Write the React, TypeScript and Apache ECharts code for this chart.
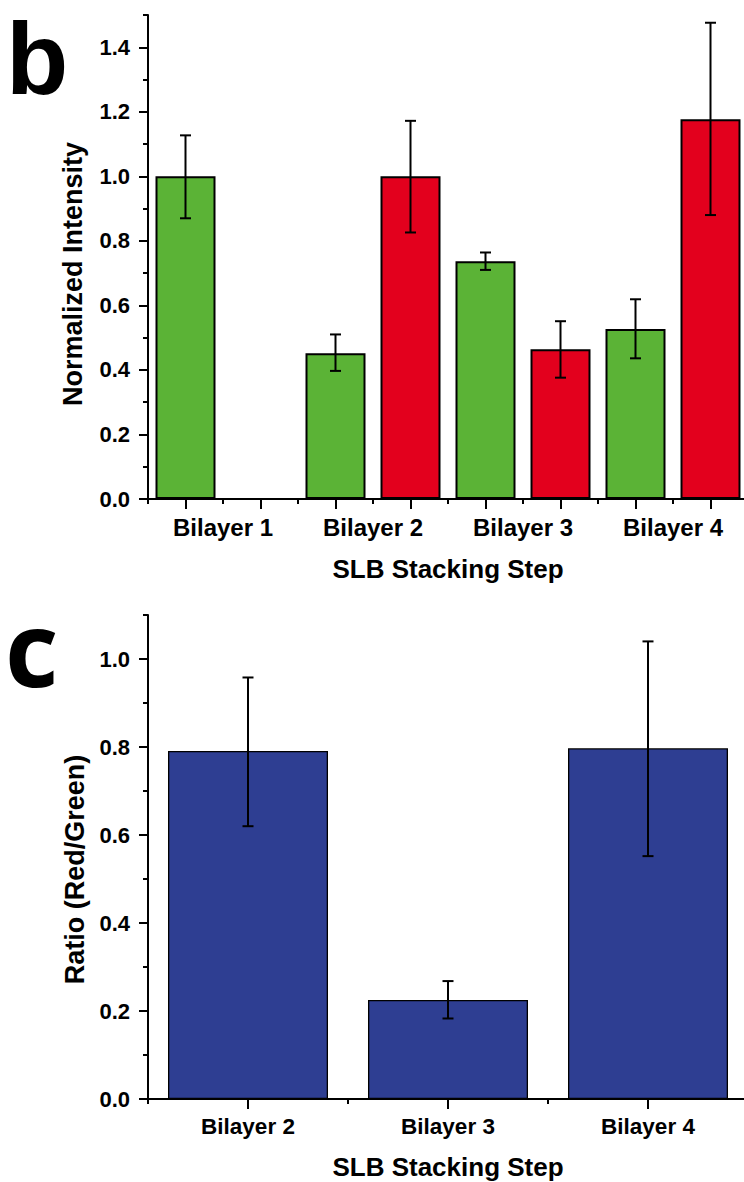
import React, { useEffect, useRef } from "react";
import * as echarts from "echarts";

// ---- Panel b data ----
const groupLabels = ["Bilayer 1", "Bilayer 2", "Bilayer 3", "Bilayer 4"];
const greenMean = [1.0, 0.452, 0.737, 0.527];
const greenErrLow = [0.87, 0.397, 0.71, 0.436];
const greenErrHigh = [1.127, 0.51, 0.764, 0.619];
const redMean: (number | null)[] = [null, 1.0, 0.464, 1.177];
const redErrLow: (number | null)[] = [null, 0.826, 0.376, 0.88];
const redErrHigh: (number | null)[] = [null, 1.172, 0.551, 1.476];
const topMajorTicks = [0, 0.2, 0.4, 0.6, 0.8, 1.0, 1.2, 1.4];
const topMinorTicks = [0.1, 0.3, 0.5, 0.7, 0.9, 1.1, 1.3, 1.5];

// ---- Panel c data ----
const ratioLabels = ["Bilayer 2", "Bilayer 3", "Bilayer 4"];
const ratioMean = [0.791, 0.225, 0.797];
const ratioErrLow = [0.62, 0.183, 0.552];
const ratioErrHigh = [0.958, 0.268, 1.04];
const botMajorTicks = [0, 0.2, 0.4, 0.6, 0.8, 1.0];
const botMinorTicks = [0.1, 0.3, 0.5, 0.7, 0.9, 1.1];

const GREEN = "#5bb336";
const RED = "#e3001d";
const BLUE = "#2e3e92";
const FONT = "Liberation Sans, Arial, sans-serif";

export default function App() {
  const ref = useRef<HTMLDivElement>(null);
  useEffect(() => {
    if (!ref.current) return;
    const chart = echarts.init(ref.current, undefined, { renderer: "svg" });

    // slots: green then red for each group
    const slots: string[] = [];
    groupLabels.forEach((g) => {
      slots.push(g + " green");
      slots.push(g + " red");
    });
    const greenData: any[] = [];
    const redData: any[] = [];
    const errTop: any[] = [];
    groupLabels.forEach((_, i) => {
      greenData.push(greenMean[i]);
      greenData.push("-");
      redData.push("-");
      redData.push(redMean[i] == null ? "-" : redMean[i]);
      errTop.push([2 * i, greenErrLow[i], greenErrHigh[i]]);
      if (redMean[i] != null) errTop.push([2 * i + 1, redErrLow[i], redErrHigh[i]]);
    });
    const errBot = ratioLabels.map((_, i) => [i, ratioErrLow[i], ratioErrHigh[i]]);

    const errRender = (half: number) => (params: any, api: any) => {
      const x = api.value(0);
      const lo = api.coord([x, api.value(1)]);
      const hi = api.coord([x, api.value(2)]);
      const st = { stroke: "#000", lineWidth: 2 };
      return {
        type: "group",
        children: [
          { type: "line", shape: { x1: lo[0], y1: lo[1], x2: hi[0], y2: hi[1] }, style: st },
          { type: "line", shape: { x1: lo[0] - half, y1: lo[1], x2: lo[0] + half, y2: lo[1] }, style: st },
          { type: "line", shape: { x1: hi[0] - half, y1: hi[1], x2: hi[0] + half, y2: hi[1] }, style: st },
        ],
      };
    };

    const axisLineStyle = { color: "#000", width: 2 };
    const tickLine = { color: "#000", width: 2 };
    const labelStyle = (size: number) => ({
      color: "#000",
      fontFamily: FONT,
      fontWeight: "bold" as const,
      fontSize: size,
    });

    const option: any = {
      animation: false,
      grid: [
        { left: 148, top: 15, width: 600, height: 484, outerBoundsMode: "none", containLabel: false },
        { left: 148, top: 615, width: 600, height: 484, outerBoundsMode: "none", containLabel: false },
      ],
      xAxis: [
        {
          gridIndex: 0,
          type: "category",
          position: "bottom",
          data: slots,
          axisLine: { lineStyle: axisLineStyle },
          axisTick: { show: true, interval: 0, length: 5, lineStyle: tickLine },
          axisLabel: { show: false },
        },
        {
          gridIndex: 0,
          type: "category",
          position: "bottom",
          data: slots,
          axisLine: { show: false },
          axisTick: { show: true, interval: 0, alignWithLabel: true, length: 10, lineStyle: tickLine },
          axisLabel: { show: false },
        },
        {
          gridIndex: 0,
          type: "category",
          position: "bottom",
          data: groupLabels,
          axisLine: { show: false },
          axisTick: { show: false },
          axisLabel: { ...labelStyle(24), margin: 16, interval: 0 },
          name: "SLB Stacking Step",
          nameLocation: "middle",
          nameGap: 57,
          nameTextStyle: labelStyle(26),
        },
        {
          gridIndex: 1,
          type: "category",
          position: "bottom",
          data: ratioLabels,
          axisLine: { lineStyle: axisLineStyle },
          axisTick: { show: true, interval: 0, length: 5, lineStyle: tickLine },
          axisLabel: { show: false },
        },
        {
          gridIndex: 1,
          type: "category",
          position: "bottom",
          data: ratioLabels,
          axisLine: { show: false },
          axisTick: { show: true, interval: 0, alignWithLabel: true, length: 10, lineStyle: tickLine },
          axisLabel: { ...labelStyle(22.5), margin: 16, interval: 0 },
          name: "SLB Stacking Step",
          nameLocation: "middle",
          nameGap: 55,
          nameTextStyle: labelStyle(26),
        },
      ],
      yAxis: [
        {
          gridIndex: 0,
          type: "value",
          position: "left",
          min: 0,
          max: 1.5,
          axisLine: { show: true, lineStyle: axisLineStyle },
          axisTick: { show: true, length: 9, lineStyle: tickLine, customValues: topMajorTicks },
          axisLabel: {
            ...labelStyle(22),
            margin: 18,
            customValues: topMajorTicks,
            formatter: (v: number) => v.toFixed(1),
          },
          splitLine: { show: false },
          name: "Normalized Intensity",
          nameLocation: "middle",
          nameGap: 62,
          nameTextStyle: { ...labelStyle(27), padding: [0, 34, 0, 0] },
        },
        {
          gridIndex: 0,
          type: "value",
          position: "left",
          min: 0,
          max: 1.5,
          axisLine: { show: false },
          axisTick: { show: true, length: 5, lineStyle: tickLine, customValues: topMinorTicks },
          axisLabel: { show: false },
          splitLine: { show: false },
        },
        {
          gridIndex: 1,
          type: "value",
          position: "left",
          min: 0,
          max: 1.1,
          axisLine: { show: true, lineStyle: axisLineStyle },
          axisTick: { show: true, length: 9, lineStyle: tickLine, customValues: botMajorTicks },
          axisLabel: {
            ...labelStyle(22),
            margin: 18,
            customValues: botMajorTicks,
            formatter: (v: number) => v.toFixed(1),
          },
          splitLine: { show: false },
          name: "Ratio (Red/Green)",
          nameLocation: "middle",
          nameGap: 60,
          nameTextStyle: { ...labelStyle(27), padding: [0, 25, 0, 0] },
        },
        {
          gridIndex: 1,
          type: "value",
          position: "left",
          min: 0,
          max: 1.1,
          axisLine: { show: false },
          axisTick: { show: true, length: 5, lineStyle: tickLine, customValues: botMinorTicks },
          axisLabel: { show: false },
          splitLine: { show: false },
        },
      ],
      series: [
        {
          type: "bar",
          xAxisIndex: 0,
          yAxisIndex: 0,
          data: greenData,
          barWidth: "80%",
          barGap: "-100%",
          itemStyle: { color: GREEN, borderColor: "#000", borderWidth: 2 },
        },
        {
          type: "bar",
          xAxisIndex: 0,
          yAxisIndex: 0,
          data: redData,
          barWidth: "80%",
          barGap: "-100%",
          itemStyle: { color: RED, borderColor: "#000", borderWidth: 2 },
        },
        {
          type: "custom",
          xAxisIndex: 0,
          yAxisIndex: 0,
          data: errTop,
          encode: { x: 0, y: [1, 2] },
          renderItem: errRender(5.5),
          z: 5,
        },
        {
          type: "bar",
          xAxisIndex: 3,
          yAxisIndex: 2,
          data: ratioMean,
          barWidth: "80%",
          itemStyle: { color: BLUE, borderColor: "#000", borderWidth: 1.3 },
        },
        {
          type: "custom",
          xAxisIndex: 3,
          yAxisIndex: 2,
          data: errBot,
          encode: { x: 0, y: [1, 2] },
          renderItem: errRender(5.5),
          z: 5,
        },
      ],
      graphic: [
        {
          type: "text",
          x: 6,
          y: 59,
          style: {
            text: "b",
            fill: "#000",
            fontSize: 102,
            fontWeight: "bold",
            fontFamily: "Liberation Sans, Arial, sans-serif",
            verticalAlign: "middle",
            align: "left",
          },
        },
        {
          type: "text",
          x: 5,
          y: 646,
          style: {
            text: "c",
            fill: "#000",
            fontSize: 104,
            fontWeight: "bold",
            fontFamily: "Open Sans, sans-serif",
            verticalAlign: "middle",
            align: "left",
          },
        },
      ],
    };
    chart.setOption(option);
    return () => chart.dispose();
  }, []);
  return (
    <div
      ref={ref}
      style={{ position: "absolute", left: 0, top: 0, width: 744, height: 1182, background: "#fff" }}
    />
  );
}
